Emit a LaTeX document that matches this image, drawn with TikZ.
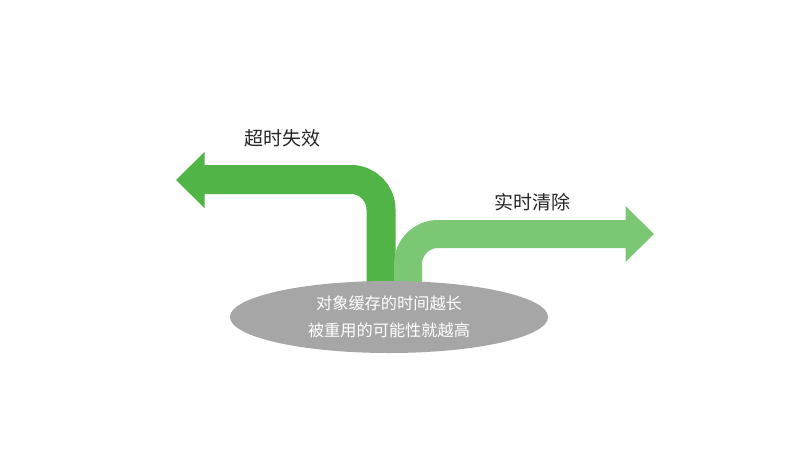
\documentclass[tikz,border=0pt]{standalone}
\usepackage{fontspec}
\setmainfont{Noto Sans CJK SC}
\usetikzlibrary{shapes.geometric}
\definecolor{darkgreen}{HTML}{50B447}
\definecolor{lightgreen}{HTML}{7BC774}
\definecolor{cachegray}{HTML}{A6A6A6}
\definecolor{textdark}{HTML}{262626}
\tikzset{
  arrowlabel/.style={font=\fontsize{19}{23}\selectfont, text=textdark, inner sep=0pt},
  cachebox/.style={ellipse, fill=cachegray, draw=none, minimum width=318pt, minimum height=72pt, inner sep=0pt,
    text=white, align=center, font=\fontsize{16.2}{27}\selectfont},
  shaft/.style={line width=#1, rounded corners=30pt}
}
\begin{document}
\begin{tikzpicture}[x=1pt,y=-1pt]
\useasboundingbox (0,0) rectangle (809,453);
\fill[white] (0,0) rectangle (809,453);
% left arrow (timeout)
\coordinate (lbase) at (381,296);
\coordinate (lbend) at (381,179.5);
\coordinate (lend) at (204,179.5);
\draw[darkgreen, shaft=29pt] (lbase) -- (lbend) -- (lend);
\fill[darkgreen] (204.5,152) -- (176,180) -- (204.5,208) -- cycle;
% right arrow (realtime clear)
\coordinate (rbase) at (408,296);
\coordinate (rbend) at (408,234);
\coordinate (rend) at (626,234);
\draw[lightgreen, shaft=28pt] (rbase) -- (rbend) -- (rend);
\fill[lightgreen] (625.5,206) -- (654,234) -- (625.5,262) -- cycle;
% cache ellipse
\node[cachebox] (cache) at (389,317) {对象缓存的时间越长\\被重用的可能性就越高};
% labels
\node[arrowlabel] (timeout) at (282,138) {超时失效};
\node[arrowlabel] (clear) at (532,202) {实时清除};
\end{tikzpicture}
\end{document}
